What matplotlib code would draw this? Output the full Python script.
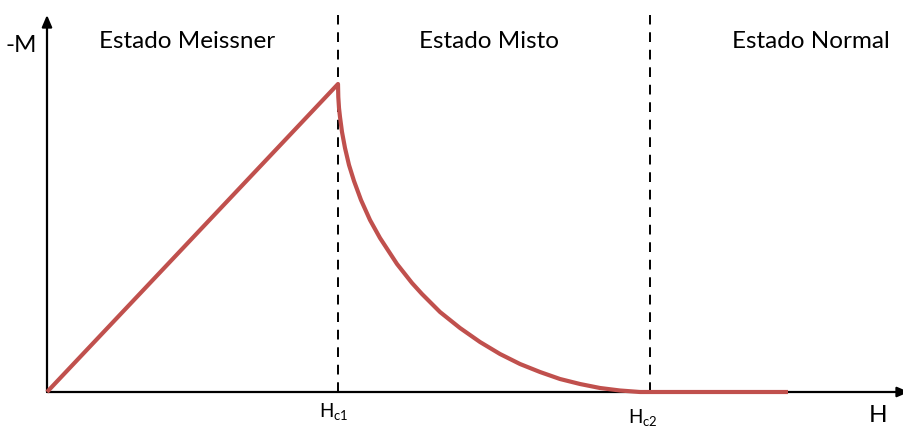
import numpy as np
import matplotlib
matplotlib.use('Agg')
import matplotlib.pyplot as plt

# magnetisation curve of a type-II superconductor (-M vs H)
H = [0.00, 2.91, 2.913, 2.92, 2.93, 2.95, 2.98, 3.02, 3.07, 3.14, 3.23, 3.33,
     3.50, 3.65, 3.75, 3.93, 4.13, 4.33, 4.53, 4.73, 4.93, 5.13, 5.33, 5.53,
     5.73, 5.93, 6.03, 7.41]
M = [0.00, 3.08, 2.95, 2.84, 2.75, 2.60, 2.44, 2.27, 2.11, 1.92, 1.72, 1.54,
     1.28, 1.09, 0.98, 0.80, 0.64, 0.50, 0.38, 0.28, 0.20, 0.13, 0.08, 0.04,
     0.015, 0.00, 0.00, 0.00]
Hc1, Hc2 = 2.91, 6.03
regions = ['Estado Meissner', 'Estado Misto', 'Estado Normal']
region_x = [1.40, 4.42, 7.64]

plt.rcParams['font.family'] = ['Lato', 'DejaVu Sans']

fig = plt.figure(figsize=(9.04, 4.28), dpi=100)
ax = fig.add_axes([0, 0, 1, 1])
ax.set_xlim(-0.47, 8.57)
ax.set_ylim(-0.36, 3.92)
ax.axis('off')

# axes with arrow heads
arr = dict(arrowstyle='-|>,head_length=0.7,head_width=0.3', color='black',
           lw=1.6, shrinkA=0, shrinkB=0)
ax.annotate('', xy=(0, 3.77), xytext=(0, 0), arrowprops=arr)
ax.annotate('', xy=(8.62, 0), xytext=(0, 0), arrowprops=arr, annotation_clip=False)

# boundaries between states
for hx in (Hc1, Hc2):
    ax.plot([hx, hx], [0, 3.77], color='black', lw=1.4, ls=(0, (5, 4)))

ax.plot(H, M, color='#C0504D', lw=3.0, solid_capstyle='butt',
        solid_joinstyle='round', zorder=3)

for name, x in zip(regions, region_x):
    ax.text(x, 3.50, name, ha='center', va='center', fontsize=17.5)
ax.text(-0.26, 3.47, '-M', ha='center', va='center', fontsize=17.5)
ax.text(8.31, -0.23, 'H', ha='center', va='center', fontsize=17.5)
ax.text(Hc1 - 0.04, -0.19, r'$\mathregular{H_{c1}}$', ha='center', va='center', fontsize=13.5)
ax.text(Hc2 - 0.07, -0.25, r'$\mathregular{H_{c2}}$', ha='center', va='center', fontsize=13.5)

fig.savefig('out.png', dpi=100)
